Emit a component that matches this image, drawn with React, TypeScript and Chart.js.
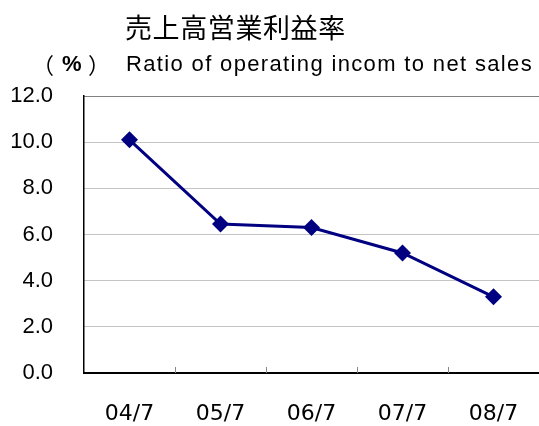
import React, { useEffect, useRef } from "react";
import { Chart, registerables } from "chart.js";

Chart.register(...registerables);

const categories = ["04/7", "05/7", "06/7", "07/7", "08/7"];
const ratioValues = [10.1, 6.45, 6.3, 5.2, 3.3];
const yMin = 0;
const yMax = 12;
const yStep = 2;
const titleText = "売上高営業利益率";
const unitOpen = "（";
const unitSign = "%";
const unitClose = "）";
const subtitleText = "Ratio of operating incom to net sales";

const LATIN = "'Liberation Sans', Arial, sans-serif";
const CJK = "'Noto Sans CJK JP', sans-serif";
const XFONT = "'DejaVu Sans', sans-serif";

function inkLeft(ctx: CanvasRenderingContext2D, text: string, left: number, baseline: number) {
  const m = ctx.measureText(text);
  ctx.fillText(text, left + m.actualBoundingBoxLeft, baseline);
}
function inkRight(ctx: CanvasRenderingContext2D, text: string, right: number, baseline: number) {
  const m = ctx.measureText(text);
  ctx.fillText(text, right - m.actualBoundingBoxRight, baseline);
}

const overlayPlugin = {
  id: "overlay",
  afterDraw(chart: any) {
    const ctx = chart.ctx as CanvasRenderingContext2D;
    const area = chart.chartArea;
    const xs = chart.scales.x;
    ctx.save();
    ctx.strokeStyle = "#888";
    ctx.lineWidth = 1;
    for (let i = 1; i < categories.length; i++) {
      const bx = Math.round((xs.getPixelForTick(i - 1) + xs.getPixelForTick(i)) / 2) + 0.5;
      ctx.beginPath();
      ctx.moveTo(bx, area.bottom);
      ctx.lineTo(bx, area.bottom - 6);
      ctx.stroke();
    }
    ctx.fillStyle = "#000";
    ctx.textBaseline = "alphabetic";
    ctx.textAlign = "left";
    ctx.font = `27px ${CJK}`;
    (ctx as any).letterSpacing = "0.6px";
    inkLeft(ctx, titleText, 126, 38);
    (ctx as any).letterSpacing = "0px";
    ctx.font = `22px ${CJK}`;
    inkLeft(ctx, unitOpen, 47, 73);
    inkRight(ctx, unitClose, 95, 73);
    ctx.font = `bold 22px ${LATIN}`;
    inkLeft(ctx, unitSign, 62, 71);
    ctx.font = `22px ${LATIN}`;
    (ctx as any).letterSpacing = "1.35px";
    inkLeft(ctx, subtitleText, 127, 71);
    (ctx as any).letterSpacing = "0px";
    ctx.restore();
  },
};

export default function App() {
  const ref = useRef<HTMLCanvasElement | null>(null);
  useEffect(() => {
    if (!ref.current) return;
    const chart = new Chart(ref.current, {
      type: "line",
      data: {
        labels: categories,
        datasets: [
          {
            data: ratioValues,
            borderColor: "#000080",
            backgroundColor: "#000080",
            borderWidth: 3,
            pointStyle: "rectRot",
            pointRadius: 8.5,
            pointBackgroundColor: "#000080",
            pointBorderColor: "#000080",
            pointBorderWidth: 0,
            tension: 0,
            fill: false,
          },
        ],
      },
      options: {
        animation: false,
        responsive: false,
        maintainAspectRatio: false,
        layout: { autoPadding: false, padding: { top: 96, left: 0, right: 0, bottom: 0 } },
        plugins: {
          legend: { display: false },
          title: { display: false },
          tooltip: { enabled: false },
        },
        scales: {
          x: {
            type: "category",
            offset: true,
            grid: { display: false, drawTicks: false },
            border: { display: true, color: "#000", width: 2 },
            ticks: {
              color: "#000",
              font: { size: 22, family: XFONT },
              padding: 28,
              maxRotation: 0,
              autoSkip: false,
            },
            afterFit(scale: any) {
              scale.height = 53;
              scale.paddingLeft = 0;
              scale.paddingRight = 0;
            },
          },
          y: {
            min: yMin,
            max: yMax,
            ticks: {
              stepSize: yStep,
              color: "#000",
              font: { size: 22, family: LATIN },
              padding: 31,
              callback: (v: any) => Number(v).toFixed(1),
            },
            grid: {
              drawTicks: false,
              lineWidth: 1,
              color: (c: any) => (c.tick && c.tick.value === yMax ? "#000" : "#888"),
            },
            border: { display: true, color: "#000", width: 1.5, dash: [1, 1] },
            afterFit(scale: any) {
              scale.width = 84;
              scale.paddingTop = 0;
              scale.paddingBottom = 0;
            },
          },
        },
      },
      plugins: [overlayPlugin],
    });
    return () => chart.destroy();
  }, []);
  return (
    <div style={{ position: "absolute", left: 0, top: 0, width: 539, height: 426, background: "#fff" }}>
      <canvas ref={ref} width={539} height={426} style={{ display: "block" }} />
    </div>
  );
}
